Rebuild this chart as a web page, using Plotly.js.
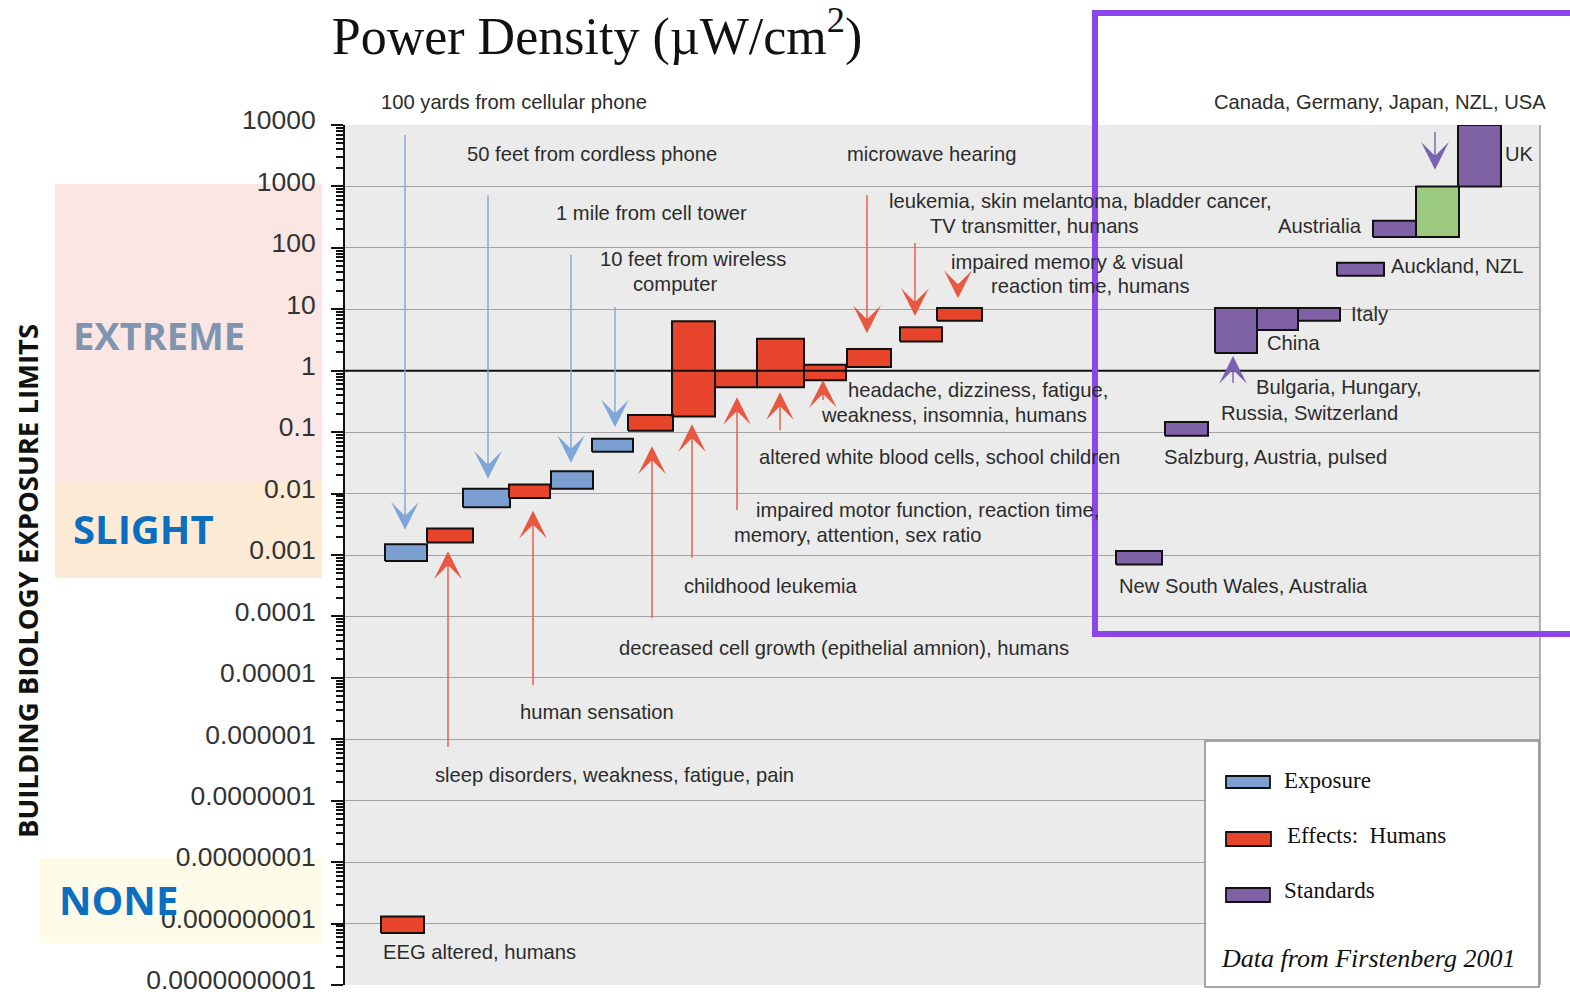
<!DOCTYPE html>
<html><head><meta charset="utf-8">
<script src="https://cdn.plot.ly/plotly-3.0.1.min.js"></script>
<style>html,body{margin:0;padding:0;background:#fff}</style>
</head><body><div id="chart" style="width:1570px;height:997px"></div>
<script>
// ---------------- DATA ----------------
const tickValues = [1e4,1e3,1e2,1e1,1,1e-1,1e-2,1e-3,1e-4,1e-5,1e-6,1e-7,1e-8,1e-9,1e-10];
const tickLabels = ['10000','1000','100','10','1','0.1','0.01','0.001','0.0001','0.00001','0.000001','0.0000001','0.00000001','0.000000001','0.0000000001'];

// Exposure (blue)
const exposureNames = ['100 yards from cellular phone','50 feet from cordless phone','1 mile from cell tower','10 feet from wireless computer'];
const exposureX0   = [40, 118, 206, 247];
const exposureX1   = [82, 165, 248, 288];
const exposureLow  = [0.0008, 0.006, 0.012, 0.048];
const exposureHigh = [0.0015, 0.012, 0.023, 0.078];

// Effects: humans (red)
const effectNames = ['EEG altered, humans','sleep disorders, weakness, fatigue, pain','human sensation',
  'decreased cell growth (epithelial amnion), humans','childhood leukemia','impaired motor function, reaction time, memory, attention, sex ratio',
  'altered white blood cells, school children','headache, dizziness, fatigue, weakness, insomnia, humans','microwave hearing',
  'leukemia, skin melantoma, bladder cancer, TV transmitter, humans','impaired memory & visual reaction time, humans'];
const effectX0   = [36, 82, 164, 283, 327, 370, 412, 459, 502, 555, 592];
const effectX1   = [79, 128, 205, 328, 370, 412, 459, 501, 546, 597, 637];
const effectLow  = [7e-10, 0.0016, 0.0085, 0.105, 0.18, 0.54, 0.54, 0.7, 1.15, 3.0, 6.5];
const effectHigh = [1.3e-9, 0.0027, 0.014, 0.19, 6.4, 1.0, 3.3, 1.25, 2.25, 5.1, 10.5];

// Standards (purple)
const standardNames = ['New South Wales, Australia','Salzburg, Austria, pulsed','Bulgaria, Hungary, Russia, Switzerland','China','Italy','Auckland, NZL','Austrialia','UK'];
const standardX0   = [771, 820, 870, 912, 953, 992, 1028, 1113];
const standardX1   = [817, 863, 912, 953, 995, 1039, 1071, 1156];
const standardLow  = [0.0007, 0.087, 1.95, 4.6, 6.5, 35, 150, 1000];
const standardHigh = [0.00116, 0.146, 10.5, 10.5, 10.5, 57, 275, 10000];

// Standard (green)
const greenNames = ['Canada, Germany, Japan, NZL, USA'];
const greenX0   = [1071];
const greenX1   = [1114];
const greenLow  = [150];
const greenHigh = [1000];

// ---------------- BUILD ----------------
function rects(x0, x1, lo, hi, names) {
  const xs = [], ys = [], tx = [];
  for (let i = 0; i < x0.length; i++) {
    xs.push(x0[i], x1[i], x1[i], x0[i], x0[i], null);
    ys.push(lo[i], lo[i], hi[i], hi[i], lo[i], null);
    for (let k = 0; k < 6; k++) tx.push(names[i]);
  }
  return {xs, ys, tx};
}
function rectTrace(x0, x1, lo, hi, names, fill, nm) {
  const r = rects(x0, x1, lo, hi, names);
  return {type: 'scatter', mode: 'lines', x: r.xs, y: r.ys, text: r.tx, name: nm,
    fill: 'toself', fillcolor: fill, line: {color: '#111', width: 2},
    hoverinfo: 'text', showlegend: false};
}
const COL_EXP = '#7b9fd0', COL_EFF = '#e8432b', COL_STD = '#7f62a6', COL_GRN = '#9ccb80';
const traces = [
  rectTrace(exposureX0, exposureX1, exposureLow, exposureHigh, exposureNames, COL_EXP, 'Exposure'),
  rectTrace(effectX0, effectX1, effectLow, effectHigh, effectNames, COL_EFF, 'Effects: Humans'),
  rectTrace(standardX0, standardX1, standardLow, standardHigh, standardNames, COL_STD, 'Standards'),
  rectTrace(greenX0, greenX1, greenLow, greenHigh, greenNames, COL_GRN, 'Standards')
];

// layout helpers (pixel -> paper)
const PX = px => (px - 345) / 1195;
const PY = py => (985 - py) / 860;

const BLUE_A = '#7ea6d8', RED_A = '#e8573f', PUR_A = '#7a62b0';
// arrows: x (axis units), tip & tail (log10 of value)
const arrows = [
  [60, -2.59, 4.0, BLUE_A], [143, -1.76, 3.02, BLUE_A], [226, -1.50, 2.05, BLUE_A], [270, -0.92, 1.2, BLUE_A],
  [103, -2.94, -6.29, RED_A], [188, -2.28, -5.28, RED_A], [307, -1.23, -4.19, RED_A], [347, -0.87, -3.21, RED_A],
  [392, -0.43, -2.43, RED_A], [435, -0.35, -1.13, RED_A], [478, -0.15, -0.64, RED_A],
  [522, 0.61, 3.02, RED_A], [570, 0.89, 2.24, RED_A], [613, 1.18, 1.54, RED_A],
  [1090, 3.27, 4.05, PUR_A], [888, 0.24, -0.36, PUR_A]
];
const annotations = [];
arrows.forEach(a => annotations.push({xref: 'x', yref: 'y', axref: 'x', ayref: 'y',
  x: a[0], y: a[1], ax: a[0], ay: a[2], text: ' ', showarrow: true,
  arrowhead: 3, arrowsize: 3.3, arrowwidth: 1.4, arrowcolor: a[3], standoff: 0}));

// text labels: [text, left px, center y px]
const labels = [
  ['100 yards from cellular phone', 380, 102], ['50 feet from cordless phone', 466, 154],
  ['1 mile from cell tower', 555, 213], ['10 feet from wireless', 599, 259], ['computer', 632, 284],
  ['microwave hearing', 846, 154], ['leukemia, skin melantoma, bladder cancer,', 888, 201],
  ['TV transmitter, humans', 929, 226], ['impaired memory & visual', 950, 262], ['reaction time, humans', 990, 286],
  ['headache, dizziness, fatigue,', 847, 390], ['weakness, insomnia, humans', 820, 415],
  ['altered white blood cells, school children', 758, 457], ['impaired motor function, reaction time,', 755, 510],
  ['memory, attention, sex ratio', 733, 535], ['childhood leukemia', 683, 586],
  ['decreased cell growth (epithelial amnion), humans', 618, 648], ['human sensation', 519, 712],
  ['sleep disorders, weakness, fatigue, pain', 434, 775], ['EEG altered, humans', 382, 952],
  ['Canada, Germany, Japan, NZL, USA', 1213, 102], ['UK', 1504, 154], ['Austrialia', 1277, 226],
  ['Auckland, NZL', 1390, 266], ['Italy', 1350, 314], ['China', 1266, 343],
  ['Bulgaria, Hungary,', 1255, 387], ['Russia, Switzerland', 1220, 413],
  ['Salzburg, Austria, pulsed', 1163, 457], ['New South Wales, Australia', 1118, 586]
];
labels.forEach(l => annotations.push({xref: 'paper', yref: 'paper', x: PX(l[1]), y: PY(l[2]),
  xanchor: 'left', yanchor: 'middle', text: l[0], showarrow: false, borderpad: 0,
  font: {family: 'Liberation Sans, Arial, sans-serif', size: 20.2, color: '#2b2b2b'}}));

// legend texts
const serif = 'Liberation Serif, Times New Roman, serif';
annotations.push(
  {xref:'paper', yref:'paper', x: PX(1283), y: PY(780), xanchor:'left', yanchor:'middle', showarrow:false, borderpad:0,
   text:'Exposure', font:{family: serif, size: 23, color:'#111'}},
  {xref:'paper', yref:'paper', x: PX(1286), y: PY(835), xanchor:'left', yanchor:'middle', showarrow:false, borderpad:0,
   text:'Effects:&nbsp; Humans', font:{family: serif, size: 23, color:'#111'}},
  {xref:'paper', yref:'paper', x: PX(1283), y: PY(890), xanchor:'left', yanchor:'middle', showarrow:false, borderpad:0,
   text:'Standards', font:{family: serif, size: 23, color:'#111'}},
  {xref:'paper', yref:'paper', x: PX(1220), y: PY(958), xanchor:'left', yanchor:'middle', showarrow:false, borderpad:0,
   text:'<i>Data from Firstenberg 2001</i>', font:{family: serif, size: 26, color:'#111'}}
);

// left band texts
const bandFont = 'Open Sans, Lato, sans-serif';
annotations.push(
  {xref:'paper', yref:'paper', x: PX(72), y: PY(335), xanchor:'left', yanchor:'middle', showarrow:false, borderpad:0,
   text:'<b>EXTREME</b>', font:{family: bandFont, size: 38, color:'#7f95af'}},
  {xref:'paper', yref:'paper', x: PX(72), y: PY(528), xanchor:'left', yanchor:'middle', showarrow:false, borderpad:0,
   text:'<b>SLIGHT</b>', font:{family: bandFont, size: 40, color:'#0b6fc1'}},
  {xref:'paper', yref:'paper', x: PX(58), y: PY(899), xanchor:'left', yanchor:'middle', showarrow:false, borderpad:0,
   text:'<b>NONE</b>', font:{family: bandFont, size: 40, color:'#0b6fc1'}},
  {xref:'paper', yref:'paper', x: PX(27), y: PY(581), xanchor:'center', yanchor:'middle', showarrow:false, borderpad:0,
   textangle: -90, text:'<b>BUILDING BIOLOGY EXPOSURE LIMITS</b>', font:{family: bandFont, size: 27.5, color:'#111'}}
);

const shapes = [
  // band backgrounds
  {type:'rect', xref:'paper', yref:'paper', x0: PX(55), x1: PX(322), y0: PY(482), y1: PY(184), fillcolor:'#fce6e4', line:{width:0}, layer:'below'},
  {type:'rect', xref:'paper', yref:'paper', x0: PX(55), x1: PX(322), y0: PY(578), y1: PY(482), fillcolor:'#fdebd6', line:{width:0}, layer:'below'},
  {type:'rect', xref:'paper', yref:'paper', x0: PX(40), x1: PX(322), y0: PY(943), y1: PY(858), fillcolor:'#fefbe8', line:{width:0}, layer:'below'},
  // y = 1 reference line
  {type:'line', xref:'paper', yref:'y', x0: 0, x1: 1, y0: 1, y1: 1, line:{color:'#111', width:2}},
  // right border
  {type:'line', xref:'paper', yref:'paper', x0: 1, x1: 1, y0: 0, y1: 1, line:{color:'#9a9a9a', width:1.5}},
  // legend box
  {type:'rect', xref:'paper', yref:'paper', x0: PX(1205), x1: PX(1539), y0: PY(987), y1: PY(741), fillcolor:'#ffffff', line:{color:'#8a8a8a', width:1.5}},
  {type:'rect', xref:'paper', yref:'paper', x0: PX(1226), x1: PX(1270), y0: PY(788), y1: PY(776), fillcolor: COL_EXP, line:{color:'#111', width:1.8}},
  {type:'rect', xref:'paper', yref:'paper', x0: PX(1226), x1: PX(1271), y0: PY(846), y1: PY(832), fillcolor: COL_EFF, line:{color:'#111', width:1.8}},
  {type:'rect', xref:'paper', yref:'paper', x0: PX(1226), x1: PX(1270), y0: PY(902), y1: PY(888), fillcolor: COL_STD, line:{color:'#111', width:1.8}},
  // purple highlight box
  {type:'rect', xref:'paper', yref:'paper', x0: PX(1095), x1: PX(1590), y0: PY(634), y1: PY(13), fillcolor:'rgba(0,0,0,0)', line:{color:'#8a46e6', width:6}}
];

// minor tick positions
const minorVals = [];
for (let e = -10; e < 4; e++) for (let m = 2; m <= 9; m++) minorVals.push(m * Math.pow(10, e));

const layout = {
  width: 1570, height: 997,
  margin: {l: 345, r: 30, t: 125, b: 12, pad: 0},
  paper_bgcolor: '#ffffff', plot_bgcolor: '#ebebeb',
  title: {text: 'Power Density (µW/cm<sup>2</sup>)', xref: 'container', yref: 'container',
    x: 597/1570, xanchor: 'center', y: 1 - 36/997, yanchor: 'middle',
    font: {family: serif, size: 52, color: '#111'}},
  xaxis: {range: [0, 1195], visible: false, fixedrange: true},
  yaxis: {type: 'log', range: [-10, 4], tickvals: tickValues, ticktext: tickLabels,
    ticks: 'outside', ticklen: 12, tickwidth: 2, tickcolor: '#111',
    showline: true, linecolor: '#111', linewidth: 2,
    showgrid: true, gridcolor: '#a4a4a4', gridwidth: 1, zeroline: false,
    ticklabelstandoff: 10, ticklabelshift: -5, ticklabeloverflow: 'allow',
    tickfont: {family: 'Liberation Sans, Arial, sans-serif', size: 26.5, color: '#333'},
    minor: {tickvals: minorVals, ticks: 'outside', ticklen: 7, tickwidth: 1.5, tickcolor: '#111', showgrid: false},
    fixedrange: true},
  shapes: shapes,
  annotations: annotations,
  showlegend: false,
  hovermode: 'closest'
};

Plotly.newPlot('chart', traces, layout, {displayModeBar: false});
</script>
</body></html>
